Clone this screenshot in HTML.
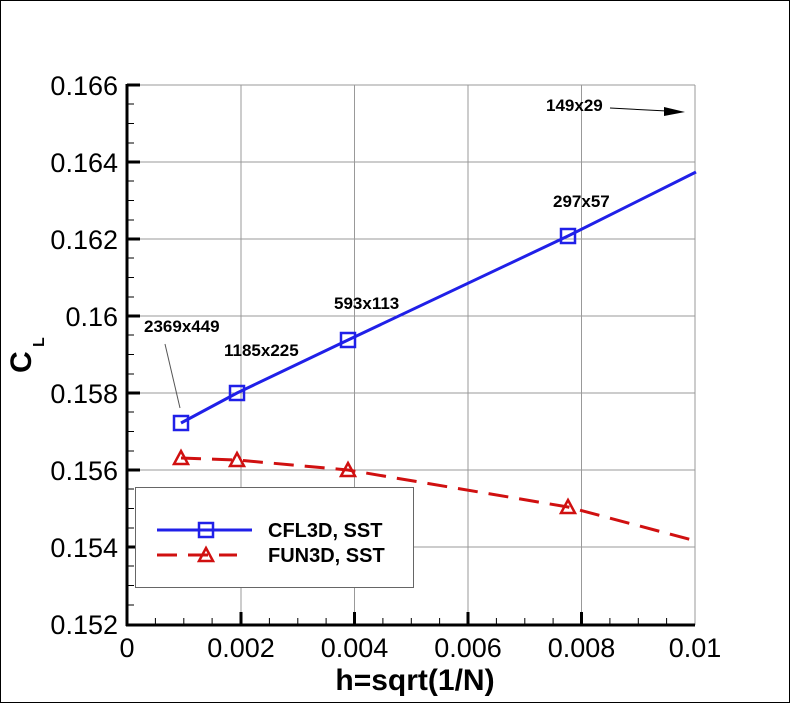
<!DOCTYPE html>
<html><head><style>
html,body{margin:0;padding:0;background:#fff}
svg{display:block}
text{font-family:"Liberation Sans",Arial,sans-serif}
</style></head><body>
<svg width="791" height="704" viewBox="0 0 791 704" xmlns="http://www.w3.org/2000/svg">
<rect x="0.5" y="0.5" width="789" height="702" fill="#fff" stroke="#000" stroke-width="1"/>
<g stroke="#999" stroke-width="1">
<line x1="241" y1="85" x2="241" y2="625"/>
<line x1="354.5" y1="85" x2="354.5" y2="625"/>
<line x1="468" y1="85" x2="468" y2="625"/>
<line x1="581.5" y1="85" x2="581.5" y2="625"/>
<line x1="695" y1="85" x2="695" y2="625"/>
<line x1="127" y1="85" x2="695" y2="85"/>
<line x1="127" y1="162" x2="695" y2="162"/>
<line x1="127" y1="239" x2="695" y2="239"/>
<line x1="127" y1="316" x2="695" y2="316"/>
<line x1="127" y1="393" x2="695" y2="393"/>
<line x1="127" y1="470" x2="695" y2="470"/>
<line x1="127" y1="547" x2="695" y2="547"/>
</g>
<g stroke="#000">
<line x1="127" y1="84" x2="127" y2="626" stroke-width="3"/>
<line x1="126" y1="625" x2="695" y2="625" stroke-width="3"/>
<g stroke-width="3">
<line x1="127" y1="85" x2="140" y2="85"/><line x1="127" y1="162" x2="140" y2="162"/><line x1="127" y1="239" x2="140" y2="239"/><line x1="127" y1="316" x2="140" y2="316"/><line x1="127" y1="393" x2="140" y2="393"/><line x1="127" y1="470" x2="140" y2="470"/><line x1="127" y1="547" x2="140" y2="547"/>
<line x1="241" y1="625" x2="241" y2="612"/><line x1="354.5" y1="625" x2="354.5" y2="612"/><line x1="468" y1="625" x2="468" y2="612"/><line x1="581.5" y1="625" x2="581.5" y2="612"/>
</g>
<g stroke-width="1">
<line x1="127" y1="104" x2="134" y2="104"/><line x1="127" y1="123.5" x2="134" y2="123.5"/><line x1="127" y1="143" x2="134" y2="143"/>
<line x1="127" y1="181" x2="134" y2="181"/><line x1="127" y1="200.5" x2="134" y2="200.5"/><line x1="127" y1="220" x2="134" y2="220"/>
<line x1="127" y1="258" x2="134" y2="258"/><line x1="127" y1="277.5" x2="134" y2="277.5"/><line x1="127" y1="297" x2="134" y2="297"/>
<line x1="127" y1="335" x2="134" y2="335"/><line x1="127" y1="354.5" x2="134" y2="354.5"/><line x1="127" y1="374" x2="134" y2="374"/>
<line x1="127" y1="412" x2="134" y2="412"/><line x1="127" y1="431.5" x2="134" y2="431.5"/><line x1="127" y1="451" x2="134" y2="451"/>
<line x1="127" y1="489" x2="134" y2="489"/><line x1="127" y1="508.5" x2="134" y2="508.5"/><line x1="127" y1="528" x2="134" y2="528"/>
<line x1="127" y1="566" x2="134" y2="566"/><line x1="127" y1="585.5" x2="134" y2="585.5"/><line x1="127" y1="605" x2="134" y2="605"/>
<line x1="155.4" y1="625" x2="155.4" y2="618"/><line x1="183.8" y1="625" x2="183.8" y2="618"/><line x1="212.1" y1="625" x2="212.1" y2="618"/>
<line x1="269.4" y1="625" x2="269.4" y2="618"/><line x1="297.8" y1="625" x2="297.8" y2="618"/><line x1="326.1" y1="625" x2="326.1" y2="618"/>
<line x1="382.9" y1="625" x2="382.9" y2="618"/><line x1="411.3" y1="625" x2="411.3" y2="618"/><line x1="439.6" y1="625" x2="439.6" y2="618"/>
<line x1="496.4" y1="625" x2="496.4" y2="618"/><line x1="524.8" y1="625" x2="524.8" y2="618"/><line x1="553.1" y1="625" x2="553.1" y2="618"/>
<line x1="609.9" y1="625" x2="609.9" y2="618"/><line x1="638.3" y1="625" x2="638.3" y2="618"/><line x1="666.6" y1="625" x2="666.6" y2="618"/>
</g>
</g>
<g font-size="27" text-anchor="end" fill="#000">
<text x="118" y="95">0.166</text><text x="118" y="172">0.164</text><text x="118" y="249">0.162</text><text x="118" y="326">0.16</text><text x="118" y="403">0.158</text><text x="118" y="480">0.156</text><text x="118" y="557">0.154</text><text x="118" y="634">0.152</text>
</g>
<g font-size="27" text-anchor="middle">
<text x="127" y="657">0</text><text x="241" y="657">0.002</text><text x="354.5" y="657">0.004</text><text x="468" y="657">0.006</text><text x="581.5" y="657">0.008</text><text x="695" y="657">0.01</text>
</g>
<text x="415" y="690" font-size="30" font-weight="bold" text-anchor="middle">h=sqrt(1/N)</text>
<g transform="translate(31,373) rotate(-90)"><text font-size="30" font-weight="bold">C</text></g>
<g transform="translate(44,347) rotate(-90)"><text font-size="16" font-weight="bold">L</text></g>
<polyline points="181,423 237,393 348,340 568,236 696,172" fill="none" stroke="#2020e8" stroke-width="3"/>
<g fill="none" stroke="#2020e8" stroke-width="2.5">
<rect x="174" y="416" width="14" height="14"/><rect x="230" y="386" width="14" height="14"/><rect x="341" y="333" width="14" height="14"/><rect x="561" y="229" width="14" height="14"/>
</g>
<polyline points="181,458 237,460 348,470 568,507 696,541" fill="none" stroke="#d01010" stroke-width="3" stroke-dasharray="20,11"/>
<g fill="none" stroke="#d01010" stroke-width="2.5">
<polygon points="181,451 188,464 174,464"/><polygon points="237,453 244,466 230,466"/><polygon points="348,463 355,476 341,476"/><polygon points="568,500 575,513 561,513"/>
</g>
<g font-size="17" font-weight="bold">
<text x="144" y="332">2369x449</text><text x="224" y="356">1185x225</text><text x="334" y="309">593x113</text><text x="553" y="207">297x57</text><text x="546" y="111">149x29</text>
</g>
<line x1="165" y1="344" x2="180" y2="408" stroke="#555" stroke-width="1"/>
<line x1="610" y1="108" x2="667" y2="111" stroke="#000" stroke-width="1"/>
<polygon points="664,107 685,112 664,116" fill="#000"/>
<rect x="135.5" y="487.5" width="278" height="100" fill="#fff" stroke="#666" stroke-width="1"/>
<line x1="157" y1="530" x2="252" y2="530" stroke="#2020e8" stroke-width="3"/>
<rect x="199" y="523" width="14" height="14" fill="none" stroke="#2020e8" stroke-width="2.5"/>
<polyline points="157,555 237,555" fill="none" stroke="#d01010" stroke-width="3" stroke-dasharray="20,11"/>
<polygon points="206,548 213,561 199,561" fill="none" stroke="#d01010" stroke-width="2.5"/>
<g font-size="20" font-weight="bold"><text x="268" y="537">CFL3D, SST</text><text x="268" y="562">FUN3D, SST</text></g>
</svg>
</body></html>
